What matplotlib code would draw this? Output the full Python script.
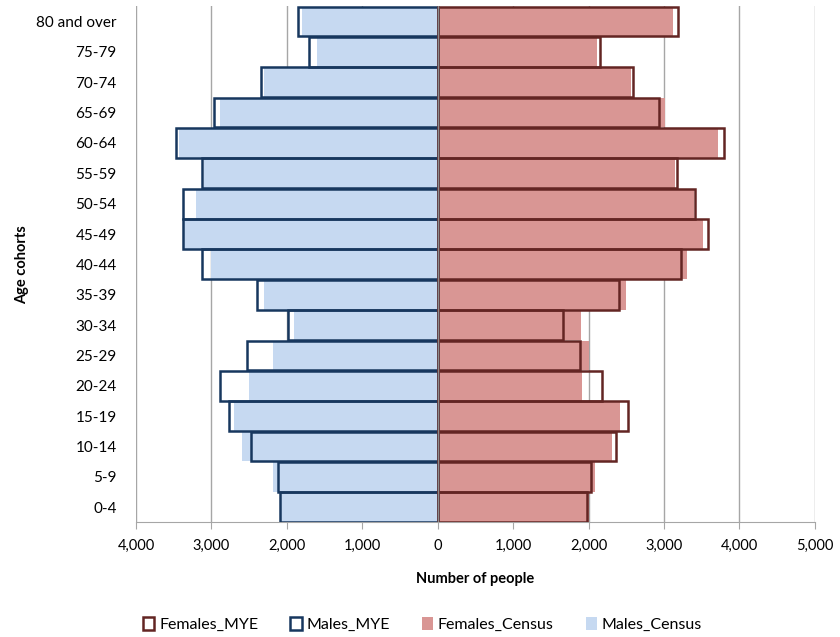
import numpy as np
import matplotlib.pyplot as plt
from matplotlib.patches import Patch

plt.rcParams['font.family'] = ['Lato', 'DejaVu Sans']

# age cohorts, bottom to top
ages = ["0-4", "5-9", "10-14", "15-19", "20-24", "25-29", "30-34", "35-39",
        "40-44", "45-49", "50-54", "55-59", "60-64", "65-69", "70-74",
        "75-79", "80 and over"]

males_census = [2080, 2180, 2600, 2700, 2500, 2180, 1900, 2300,
                3000, 3360, 3200, 3100, 3430, 2890, 2310, 1600, 1800]
males_mye = [2090, 2115, 2480, 2765, 2890, 2530, 1990, 2390,
             3130, 3375, 3380, 3130, 3470, 2970, 2350, 1705, 1850]
females_census = [2000, 2090, 2310, 2420, 1910, 2010, 1900, 2500,
                  3310, 3515, 3395, 3150, 3715, 3020, 2565, 2115, 3115]
females_mye = [1980, 2035, 2360, 2520, 2175, 1890, 1660, 2410,
               3220, 3580, 3415, 3170, 3790, 2930, 2595, 2155, 3180]

c_m_fill = "#C6D9F1"
c_m_edge = "#17375E"
c_f_fill = "#D99694"
c_f_edge = "#632523"

fig = plt.figure(figsize=(8.4, 6.37), dpi=100)
ax = fig.add_axes([0.162, 0.180, 0.808, 0.810])

y = np.arange(len(ages))
h = 0.98

# census bars (filled)
ax.barh(y, -np.array(males_census), height=h, color=c_m_fill, zorder=2)
ax.barh(y, females_census, height=h, color=c_f_fill, zorder=2)

# mid-year estimates (outline only)
ax.barh(y, -np.array(males_mye), height=h, facecolor="none",
        edgecolor=c_m_edge, linewidth=1.8, zorder=3)
ax.barh(y, females_mye, height=h, facecolor="none",
        edgecolor=c_f_edge, linewidth=1.8, zorder=3)

ax.axvline(0, color="#8C8C8C", linewidth=1.0, zorder=4)

ax.set_xlim(-4000, 5000)
ax.set_ylim(-0.5, len(ages) - 0.5)
xt = np.arange(-4000, 5001, 1000)
ax.set_xticks(xt)
ax.set_xticklabels([f"{abs(v):,}" for v in xt])
ax.set_yticks(y)
ax.set_yticklabels(ages)

ax.grid(axis="x", color="#A6A6A6", linewidth=1.0, zorder=0)
ax.set_axisbelow(True)
for s in ["top", "right", "left"]:
    ax.spines[s].set_visible(False)
ax.spines["bottom"].set_color("#A6A6A6")
ax.tick_params(axis="x", length=5, color="#A6A6A6", pad=7, labelsize=10.5)
ax.tick_params(axis="y", length=0, pad=14, labelsize=11)

ax.set_xlabel("Number of people", fontsize=10.5, fontweight="bold", labelpad=14)
ax.set_ylabel("Age cohorts", fontsize=10.5, fontweight="bold", labelpad=5)

handles = [
    Patch(facecolor="white", edgecolor=c_f_edge, linewidth=1.8, label="Females_MYE"),
    Patch(facecolor="white", edgecolor=c_m_edge, linewidth=1.8, label="Males_MYE"),
    Patch(facecolor=c_f_fill, label="Females_Census"),
    Patch(facecolor=c_m_fill, label="Males_Census"),
]
fig.legend(handles=handles, loc="center", bbox_to_anchor=(0.503, 0.02), ncol=4,
           frameon=False, fontsize=11.5, handlelength=0.7, handleheight=0.9,
           handletextpad=0.3, columnspacing=2.0)

fig.savefig("out.png", dpi=100)
